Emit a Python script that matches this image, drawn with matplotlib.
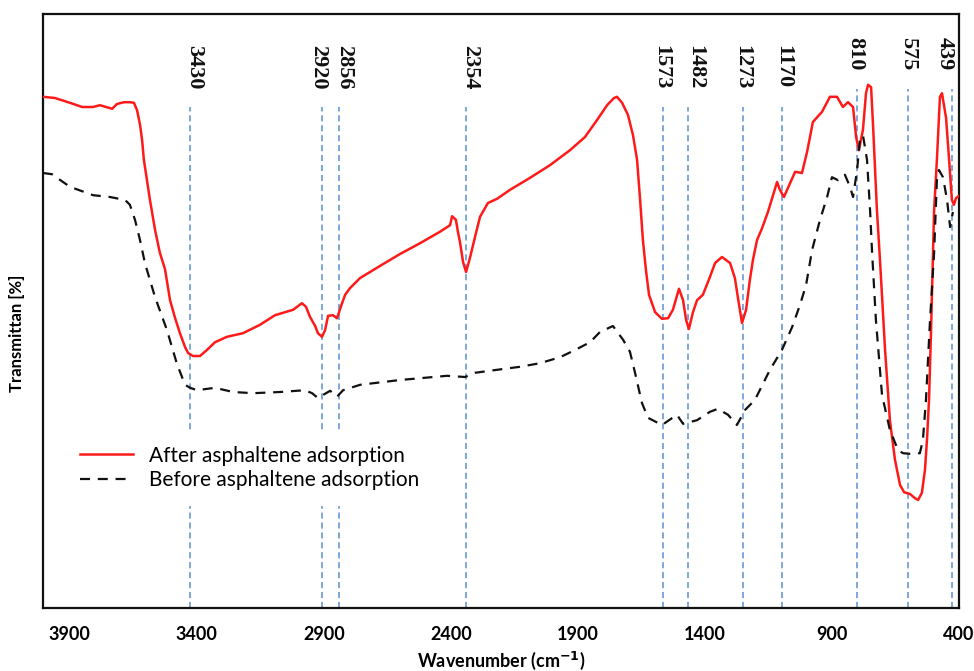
import matplotlib
matplotlib.use("Agg")
import matplotlib.pyplot as plt

# ---- data: wavenumber (cm-1) and transmittance (arbitrary %)
after_wn = [4005, 3958, 3899, 3851, 3808, 3781, 3733, 3714, 3686, 3663, 3647, 3635, 3623, 3615,
            3608, 3584, 3564, 3545, 3525, 3505, 3485, 3466, 3446, 3434, 3415, 3387, 3360, 3328,
            3281, 3218, 3151, 3092, 3021, 2986, 2970, 2954, 2934, 2923, 2907, 2895, 2883, 2864,
            2848, 2828, 2816, 2797, 2757, 2679, 2600, 2521, 2443, 2403, 2395, 2380, 2372, 2364,
            2352, 2340, 2325, 2305, 2285, 2254, 2218, 2167, 2088, 2010, 1931, 1872, 1825, 1785,
            1758, 1746, 1726, 1703, 1683, 1667, 1655, 1644, 1632, 1620, 1596, 1569, 1545, 1526,
            1502, 1486, 1474, 1463, 1447, 1431, 1408, 1380, 1360, 1333, 1301, 1282, 1270, 1254,
            1238, 1223, 1211, 1195, 1175, 1152, 1128, 1116, 1105, 1089, 1065, 1045, 1018, 998,
            975, 939, 908, 880, 857, 837, 817, 805, 794, 778, 766, 758, 746, 738, 723, 711, 691,
            672, 652, 632, 616, 593, 573, 561, 546, 534, 526, 518, 510, 498, 487, 475, 467, 451,
            439, 428, 420, 412, 400]
after_T = [85.2, 85.0, 84.2, 83.5, 83.5, 83.8, 83.2, 84.0, 84.3, 84.3, 84.2, 83.0, 80.5, 78.0,
           74.7, 68.0, 63.0, 59.2, 56.5, 51.3, 48.3, 45.8, 43.5, 42.5, 42.0, 42.0, 43.0, 44.3,
           45.2, 45.8, 47.2, 48.8, 49.7, 50.8, 50.2, 48.5, 47.0, 45.8, 45.2, 46.3, 48.7, 48.8,
           48.3, 50.8, 52.2, 53.3, 55.0, 57.0, 59.0, 60.8, 62.7, 63.8, 65.3, 64.7, 62.7, 61.0,
           57.7, 56.0, 58.3, 61.8, 65.2, 67.5, 68.2, 69.7, 71.7, 73.8, 76.3, 78.5, 81.3, 83.8,
           85.0, 85.2, 84.2, 82.2, 78.8, 74.7, 68.0, 61.3, 56.3, 52.2, 49.3, 48.2, 48.3, 49.7,
           53.2, 51.3, 48.0, 46.5, 49.3, 51.3, 52.2, 55.2, 57.5, 58.5, 57.5, 55.0, 51.7, 47.5,
           49.7, 54.7, 58.0, 61.3, 63.3, 66.0, 69.3, 71.0, 69.7, 68.5, 70.8, 72.7, 72.5, 76.0,
           81.0, 82.7, 85.2, 85.2, 83.5, 84.3, 83.5, 78.5, 76.3, 79.7, 85.8, 87.2, 86.8, 80.2,
           66.3, 58.0, 43.0, 31.3, 24.7, 20.5, 19.3, 19.0, 18.3, 18.0, 19.2, 23.0, 28.0, 34.7,
           46.3, 66.3, 74.7, 85.2, 85.8, 81.7, 74.7, 68.0, 67.2, 68.3, 68.7]

before_wn = [4005, 3970, 3950, 3899, 3808, 3741, 3682, 3663, 3643, 3623, 3604, 3564, 3517, 3478,
             3446, 3426, 3399, 3328, 3257, 3178, 3072, 2974, 2946, 2923, 2895, 2875, 2864, 2848,
             2824, 2757, 2600, 2415, 2344, 2305, 2218, 2128, 2049, 1970, 1911, 1852, 1813, 1762,
             1722, 1695, 1675, 1648, 1624, 1569, 1510, 1486, 1431, 1380, 1349, 1309, 1274, 1242,
             1203, 1144, 1097, 1057, 1026, 1002, 978, 947, 919, 900, 876, 849, 829, 817, 801,
             790, 778, 762, 750, 742, 727, 703, 672, 640, 620, 593, 554, 542, 530, 514, 498, 487,
             479, 463, 447, 435, 424]
before_T = [72.5, 72.3, 71.7, 70.2, 68.8, 68.5, 68.0, 67.2, 64.7, 61.3, 57.5, 51.8, 46.3, 40.7,
            37.2, 36.7, 36.3, 36.7, 36.0, 35.8, 36.0, 36.3, 35.8, 35.0, 35.7, 36.2, 35.8, 35.2,
            36.3, 37.2, 38.0, 38.7, 38.5, 39.2, 39.7, 40.2, 40.8, 41.8, 43.0, 44.3, 46.0, 47.0,
            44.7, 42.7, 39.2, 34.2, 31.7, 30.5, 32.2, 30.7, 31.3, 32.7, 33.2, 32.2, 30.5, 33.0,
            34.7, 39.7, 43.0, 46.8, 50.5, 53.8, 59.7, 64.7, 68.5, 71.8, 71.3, 72.2, 70.2, 68.5,
            73.0, 78.0, 78.8, 74.7, 66.3, 59.2, 48.0, 35.5, 29.7, 26.3, 25.8, 25.7, 25.8, 28.0,
            34.7, 48.0, 59.2, 71.3, 73.0, 71.8, 68.0, 63.5, 66.0]

# peak labels (text), and where the marker line / label sit on the picture's axis
peak_labels = ["3430", "2920", "2856", "2354", "1573", "1482", "1273", "1170", "810", "575", "439"]
peak_line_wn = [3426, 2907, 2840, 2340, 1565, 1467, 1250, 1097, 801, 601, 428]
peak_text_wn = [3411, 2923, 2820, 2325, 1573, 1439, 1254, 1093, 809, 601, 455]
xticks = [3900, 3400, 2900, 2400, 1900, 1400, 900, 400]
series_names = ["After asphaltene adsorption", "Before asphaltene adsorption"]

# ---- figure
fig = plt.figure(figsize=(9.74, 6.71), dpi=100)
ax = fig.add_axes([43 / 974, 63 / 671, 916 / 974, 594 / 671])

for lab, lx, tx in zip(peak_labels, peak_line_wn, peak_text_wn):
    short = len(lab) < 4
    top = 86.5 if short else 83.5
    ax.plot([lx, lx], [0, top], color="#5b8fd0", lw=1.1, ls=(0, (4, 2.5)), zorder=1)
    ax.text(tx, 95.2 if short else 93.8, lab, rotation=270, ha="center", va="top",
            fontsize=16, fontweight="bold", family="Liberation Serif", color="#111111")

ax.plot(after_wn, after_T, color="#ff1a1a", lw=1.8, label=series_names[0], zorder=3)
ax.plot(before_wn, before_T, color="#111111", lw=1.6, ls=(0, (4.5, 3.5)),
        label=series_names[1], zorder=3)

ax.set_xlim(4005, 400)
ax.set_ylim(0, 99)
ax.set_xticks(xticks)
ax.set_xticklabels([str(t) for t in xticks], fontsize=13, fontweight="bold", family="Lato")
ax.set_yticks([])
ax.tick_params(axis="x", length=0, pad=13)
for s in ax.spines.values():
    s.set_linewidth(1.6)
    s.set_color("#111111")

ax.set_xlabel(r"Wavenumber (cm$^{\mathbf{-1}}$)", fontsize=13, fontweight="bold",
              family="Lato", labelpad=5)
ax.set_ylabel("Transmittan [%]", fontsize=12, fontweight="bold", family="Lato")
ax.yaxis.set_label_coords(-0.0197, 0.463)

leg = ax.legend(loc="center left", bbox_to_anchor=(0.023, 0.236), borderaxespad=0,
                frameon=True, facecolor="white", edgecolor="none", framealpha=1,
                prop={"family": "Lato", "size": 15}, handlelength=2.55, handletextpad=0.8,
                labelspacing=0.2, borderpad=0.75)
leg.get_frame().set_boxstyle("square", pad=0)
leg.set_zorder(5)

fig.savefig("out.png", dpi=100)
